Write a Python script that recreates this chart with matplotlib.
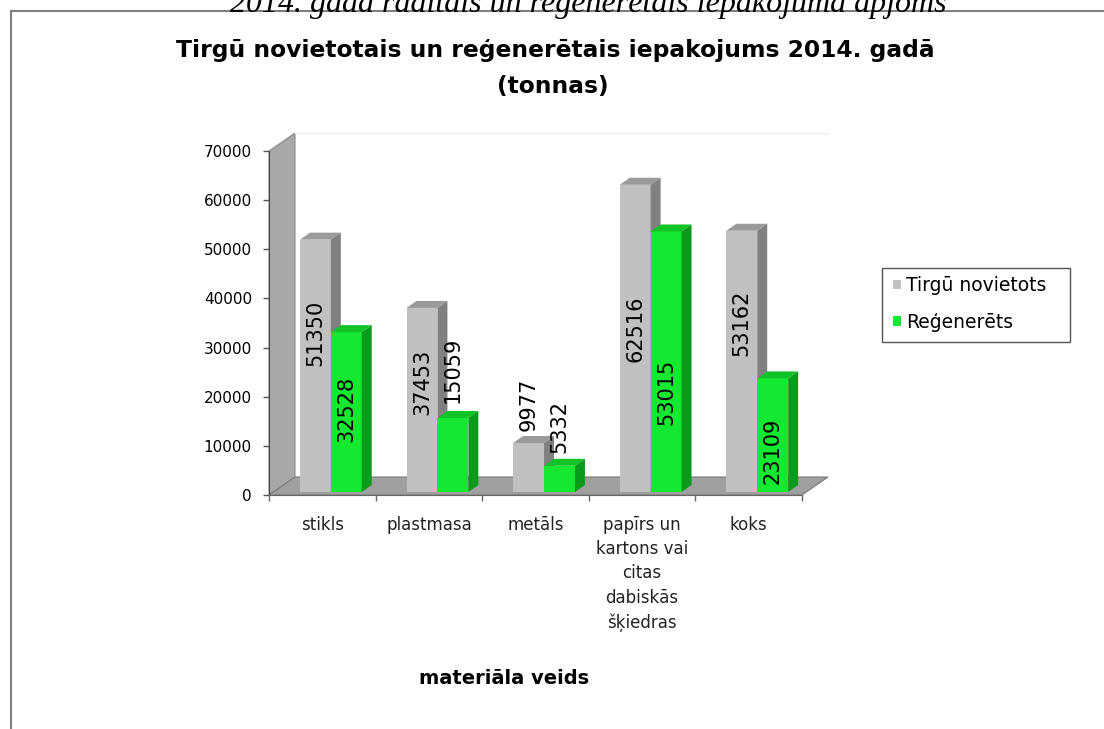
import numpy as np
import matplotlib
matplotlib.use('Agg')
import matplotlib.pyplot as plt
from matplotlib.patches import Polygon, Patch, Rectangle
from matplotlib.lines import Line2D

# dati
kategorijas = ['stikls', 'plastmasa', 'metāls',
               'papīrs un\nkartons vai\ncitas\ndabiskās\nšķiedras', 'koks']
tirgu_novietots = [51350, 37453, 9977, 62516, 53162]
regenerets = [32528, 15059, 5332, 53015, 23109]
y_ticks = [0, 10000, 20000, 30000, 40000, 50000, 60000, 70000]

# datu uzrakstu vietas (manuāli, kā oriģinālā)
uzr_y_pel = [32970, 23060, 18520, 33840, 35100]
uzr_y_zal = [17600, 25440, 13840, 21020, 8950]

pelek = ['#c0c0c0', '#9a9a9a', '#808080']   # priekša, augša, sāns
zals = ['#14e830', '#10c428', '#0c9a1c']

fig = plt.figure(figsize=(11.04, 7.29), dpi=100)
W, H = 1104, 729
ax = fig.add_axes([269 / W, (H - 495) / H, 533 / W, 344 / H])
ax.set_xlim(-0.5, 4.5)
ax.set_ylim(0, 70000)

# pikseļi -> datu vienības
px_x = 533 / 5.0
px_y = 344 / 70000.0
def dx(p):
    return p / px_x
def dy(p):
    return p / px_y

# 3D dziļums
Dx, Dy = dx(26), dy(18)
bx, by = dx(10), dy(7)
base = dy(3)

# kreisā siena
ax.add_patch(Polygon([(-0.5, 0), (-0.5, 70000), (-0.5 + Dx, 70000 + Dy), (-0.5 + Dx, Dy)],
                     closed=True, facecolor='#a8a8a8', edgecolor='#8a8a8a', lw=0.8,
                     clip_on=False, zorder=1))
# aizmugurējās sienas augšmala
ax.plot([-0.5 + Dx, 4.5 + Dx], [70000 + Dy, 70000 + Dy], color='#ececec', lw=1,
        clip_on=False, zorder=1)
# grīda
ax.add_patch(Polygon([(-0.5, 0), (4.5, 0), (4.5 + Dx, Dy), (-0.5 + Dx, Dy)],
                     closed=True, facecolor='#9f9f9f', edgecolor='#7a7a7a', lw=0.8,
                     clip_on=False, zorder=1))

x = np.arange(len(kategorijas))
w = 0.29

def stabini(xl, vals, kr, z):
    ax.bar(xl, vals, width=w, bottom=base, align='edge', color=kr[0],
           edgecolor='none', zorder=z)
    for x0, v in zip(xl, vals):
        t = base + v
        ax.add_patch(Polygon([(x0, t), (x0 + w, t), (x0 + w + bx, t + by), (x0 + bx, t + by)],
                             closed=True, facecolor=kr[1], edgecolor='none', zorder=z))
        ax.add_patch(Polygon([(x0 + w, base), (x0 + w + bx, base + by), (x0 + w + bx, t + by), (x0 + w, t)],
                             closed=True, facecolor=kr[2], edgecolor='none', zorder=z))

for i in range(len(kategorijas)):
    stabini([x[i] - 0.21], [tirgu_novietots[i]], pelek, 3 + 2 * i)
    stabini([x[i] + 0.08], [regenerets[i]], zals, 4 + 2 * i)

for i in range(len(kategorijas)):
    ax.text(x[i] - 0.21 + w / 2, uzr_y_pel[i], str(tirgu_novietots[i]), rotation=90,
            ha='center', va='center', fontsize=15, color='black', zorder=20)
    ax.text(x[i] + 0.08 + w / 2, uzr_y_zal[i], str(regenerets[i]), rotation=90,
            ha='center', va='center', fontsize=15, color='black', zorder=20)

# asis
for s in ['top', 'right']:
    ax.spines[s].set_visible(False)
ax.spines['left'].set_color('#444444')
ax.spines['bottom'].set_color('#666666')
ax.spines['left'].set_zorder(2)
ax.set_yticks(y_ticks)
ax.set_yticklabels([str(v) for v in y_ticks])
ax.tick_params(axis='y', length=4.3, width=1, color='#555555', pad=8, labelsize=11)
ax.set_xticks(np.arange(-0.5, 5, 1.0))
ax.set_xticklabels([])
ax.tick_params(axis='x', which='major', length=4.3, width=1, color='#666666')
ax.set_xticks(x, minor=True)
ax.set_xticklabels(kategorijas, minor=True, fontsize=12, color='#222222', linespacing=1.45)
ax.tick_params(axis='x', which='minor', length=0, pad=15)
ax.patch.set_visible(False)

# virsraksti
fig.text(588 / W, 1 - 12 / H, '2014. gadā radītais un reģenerētais iepakojuma apjoms',
         family='Liberation Serif', style='italic', fontsize=23, ha='center', va='baseline',
         zorder=5)
fig.text(555 / W, 1 - 51 / H, 'Tirgū novietotais un reģenerētais iepakojums 2014. gadā',
         fontsize=16.8, fontweight='bold', ha='center', va='center')
fig.text(553 / W, 1 - 86 / H, '(tonnas)', fontsize=16.8, fontweight='bold', ha='center', va='center')
fig.text(504 / W, 1 - 678 / H, 'materiāla veids', fontsize=14, fontweight='bold',
         ha='center', va='center')

# leģenda
fig.add_artist(Rectangle((882 / W, 1 - 342 / H), 188 / W, 74 / H, transform=fig.transFigure,
                         facecolor='white', edgecolor='#555555', lw=1))
rokt = [Patch(facecolor=pelek[0], edgecolor='none', label='Tirgū novietots'),
        Patch(facecolor=zals[0], edgecolor='none', label='Reģenerēts')]
leg = fig.legend(handles=rokt, loc='center left', bbox_to_anchor=(893 / W, 1 - 304 / H),
                 fontsize=13.5, handlelength=0.4, handleheight=0.4, handletextpad=0.3,
                 labelspacing=0.95, borderpad=0, borderaxespad=0, frameon=False)

# rāmis
fig.add_artist(Line2D([11 / W, 11 / W], [0, 1 - 11 / H], color='#808080', lw=1.5, zorder=1))
fig.add_artist(Line2D([11 / W, 1], [1 - 11 / H, 1 - 11 / H], color='#808080', lw=1.5, zorder=1))

fig.savefig('out.png', dpi=100)
